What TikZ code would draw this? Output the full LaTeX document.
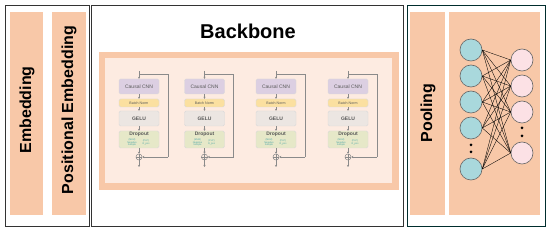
\documentclass[tikz,border=0pt]{standalone}
\usepackage{fontspec}
\setmainfont{Liberation Sans}
\usetikzlibrary{arrows.meta}
\definecolor{peach}{HTML}{F8C8A8}
\definecolor{peachlight}{HTML}{FDEBE1}
\definecolor{cnnc}{HTML}{DCCFE2}
\definecolor{bnc}{HTML}{FBE0A0}
\definecolor{geluc}{HTML}{ECE6E2}
\definecolor{dropc}{HTML}{E6E8C8}
\definecolor{tealc}{HTML}{A9D8DC}
\definecolor{pinkc}{HTML}{FCE1E5}
\definecolor{lg}{HTML}{8A8A8A}
\tikzset{
  panel/.style={draw=black!80, line width=0.9pt},
  strip/.style={fill=peach, draw=none},
  vlabel/.style={rotate=90, font=\bfseries\fontsize{16}{16}\selectfont},
  blk/.style={draw=black!15, rounded corners=1.5pt, minimum width=40pt, inner sep=0pt, font=\fontsize{5}{5}\selectfont, text=black!65},
  conn/.style={draw=lg, line width=0.4pt, -{Stealth[length=2pt,width=2pt]}},
  skip/.style={draw=lg, line width=0.5pt},
  inn/.style={circle, draw=black!60, fill=tealc, minimum size=22pt, inner sep=0pt, line width=0.6pt},
  outn/.style={circle, draw=black!60, fill=pinkc, minimum size=22pt, inner sep=0pt, line width=0.6pt},
  dotn/.style={circle, fill=black, minimum size=3pt, inner sep=0pt},
}
\begin{document}
\begin{tikzpicture}[x=1pt,y=-1pt]
\useasboundingbox (0,0) rectangle (550,232);
\fill[white] (0,0) rectangle (550,232);
% left panel
\draw[panel] (5,5) rectangle (89,226);
\fill[strip] (9.5,12) rectangle (43,215);
\fill[strip] (52,12) rectangle (86,215);
\node[vlabel] (emb) at (27,110) {Embedding};
\node[vlabel] (pos) at (69,110) {Positional Embedding};
% backbone panel
\draw[panel] (91,5) rectangle (403,226);
\node[font=\bfseries\fontsize{20}{20}\selectfont] (bb) at (248,31) {Backbone};
\fill[peach] (99,52) rectangle (399,190);
\fill[peachlight] (105,58) rectangle (392,183);
\foreach \i/\cx in {1/139,2/204.5,3/276,4/348}{
  \coordinate (in\i) at (\cx,71);
  \coordinate (br\i) at (\cx,74);
  \node[blk, fill=cnnc, minimum height=15pt] (cnn\i) at (\cx,86.5) {Causal CNN};
  \node[blk, fill=bnc, minimum height=8pt, font=\fontsize{3.6}{3.6}\selectfont] (bn\i) at (\cx,103) {Batch Norm};
  \node[blk, fill=geluc, minimum height=15pt, font=\bfseries\fontsize{5}{5}\selectfont] (gelu\i) at (\cx,118.5) {GELU};
  \node[blk, fill=dropc, minimum height=17pt] (drop\i) at (\cx,139.5) {};
  \node[font=\bfseries\fontsize{5}{5}\selectfont, text=black!65] (dt\i) at (\cx,134.3) {Dropout};
  \node[font=\fontsize{2.4}{2.6}\selectfont, text=teal!70, align=center] (da\i) at (\cx-7,142.5) {(MLM)\\Negative\\Sample};
  \node[font=\fontsize{2.4}{2.6}\selectfont, text=teal!70, align=center] (db\i) at (\cx+7,142.5) {(PLP)\\R\_pos};
  \node[circle, draw=lg, fill=peachlight, minimum size=6pt, inner sep=0pt, line width=0.5pt] (add\i) at (\cx,157) {};
  \draw[lg, line width=0.3pt] (add\i.north) -- (add\i.south) (add\i.west) -- (add\i.east);
  \coordinate (out\i) at (\cx,167);
  \coordinate (sa\i) at (\cx+29,74);
  \coordinate (sb\i) at (\cx+29,157);
  \draw[conn] (in\i) -- (cnn\i);
  \draw[conn] (cnn\i) -- (bn\i);
  \draw[conn] (bn\i) -- (gelu\i);
  \draw[conn] (gelu\i) -- (drop\i);
  \draw[conn] (drop\i) -- (add\i);
  \draw[conn] (add\i) -- (out\i);
  \draw[skip] (br\i) -- (sa\i) -- (sb\i);
  \draw[conn] (sb\i) -- (add\i);
}
% right panel
\draw[draw=black!65!teal, line width=0.9pt] (407,5) rectangle (545,226);
\fill[strip] (410,12) rectangle (445,215);
\fill[strip] (449,12) rectangle (540,215);
\node[vlabel] (pool) at (428,113) {Pooling};
\foreach \j/\yy in {1/50,2/76,3/102,4/128,5/169}{
  \node[inn] (a\j) at (471,\yy) {};
}
\foreach \k/\yy in {1/60,2/86,3/112,4/153}{
  \node[outn] (b\k) at (522,\yy) {};
}
\foreach \j in {1,...,5}{
  \foreach \k in {1,...,4}{
    \draw[black, line width=0.35pt] (a\j.east) -- (b\k.west);
  }
}
\node[dotn] (d1) at (471,145) {};
\node[dotn] (d2) at (471,152) {};
\node[dotn] (d3) at (522,128) {};
\node[dotn] (d4) at (522,136) {};
\end{tikzpicture}
\end{document}
